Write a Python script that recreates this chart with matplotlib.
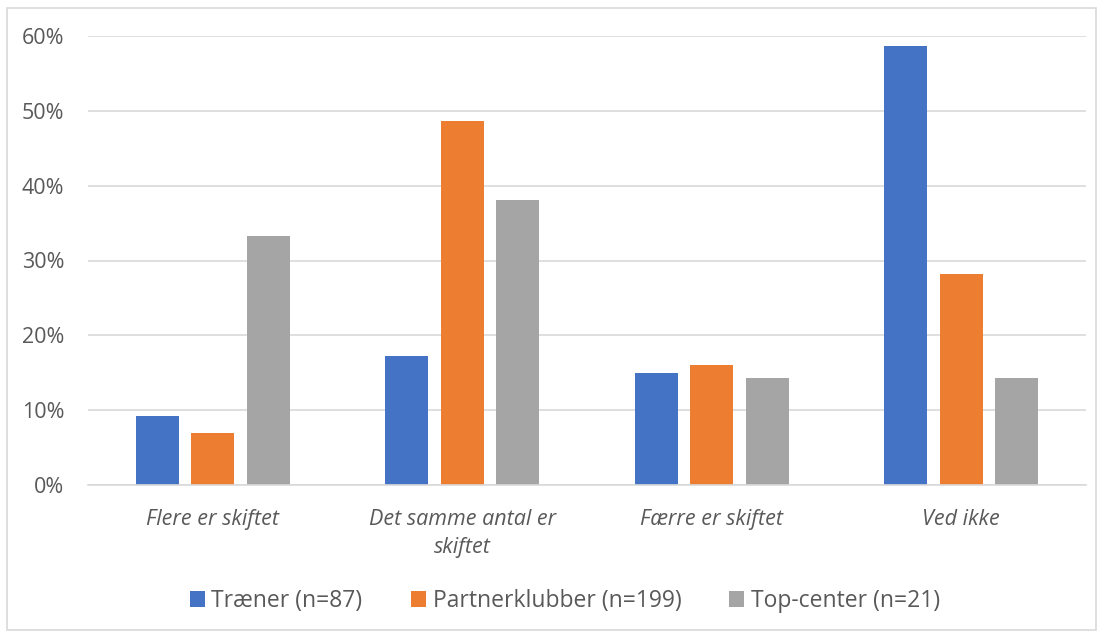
import matplotlib
matplotlib.use("Agg")
import matplotlib.pyplot as plt
from matplotlib.patches import Rectangle, Patch
import numpy as np

categories = ["Flere er skiftet", "Det samme antal er\nskiftet", "Færre er skiftet", "Ved ikke"]
series_names = ["Træner (n=87)", "Partnerklubber (n=199)", "Top-center (n=21)"]
traener = [9.2, 17.2, 14.9, 58.6]
partner = [7.0, 48.7, 16.1, 28.2]
topcenter = [33.3, 38.1, 14.3, 14.3]
colors = ["#4472C4", "#ED7D31", "#A5A5A5"]
yticks = [0, 10, 20, 30, 40, 50, 60]
ytick_labels = ["0%", "10%", "20%", "30%", "40%", "50%", "60%"]

plt.rcParams['font.family'] = ['Open Sans', 'DejaVu Sans']

W, H = 1103, 636
fig = plt.figure(figsize=(W / 100, H / 100), dpi=100)
fig.patches.append(Rectangle((7 / W, 6 / H), (1096 - 7) / W, (629 - 7) / H,
                             transform=fig.transFigure, fill=False,
                             edgecolor="#D9D9D9", linewidth=1.2))

ax = fig.add_axes([88 / W, 1 - 485 / H, (1086 - 88) / W, (485 - 36) / H])
x = np.arange(len(categories))
width = 0.172
step = 0.222
for i, (vals, name) in enumerate(zip([traener, partner, topcenter], series_names)):
    ax.bar(x + (i - 1) * step, vals, width=width, color=colors[i], label=name, zorder=3)

ax.set_xlim(-0.5, len(categories) - 0.5)
ax.set_ylim(0, 60)
ax.set_yticks(yticks)
ax.set_yticklabels(ytick_labels)
ax.set_xticks(x)
ax.set_xticklabels(categories, fontstyle="italic")
for s in ["top", "right", "left"]:
    ax.spines[s].set_visible(False)
ax.spines["bottom"].set_color("#D9D9D9")
ax.spines["bottom"].set_linewidth(1.2)
ax.spines["bottom"].set_zorder(4)
ax.grid(axis="y", color="#D9D9D9", linewidth=1.2, zorder=0)
ax.tick_params(axis="both", length=0, labelsize=15.5, labelcolor="#595959")
ax.tick_params(axis="y", pad=17)
ax.tick_params(axis="x", pad=17)
for lbl in ax.get_xticklabels():
    lbl.set_linespacing(1.45)

handles = [Patch(facecolor=c, label=n) for c, n in zip(colors, series_names)]
leg = fig.legend(handles=handles, loc="center", bbox_to_anchor=(565 / W, 1 - 601 / H),
                 ncol=3, frameon=False, fontsize=16.5, handlelength=0.65, handleheight=0.65,
                 handletextpad=0.3, columnspacing=2.1)
for t in leg.get_texts():
    t.set_color("#595959")

fig.savefig("out.png", dpi=100)
